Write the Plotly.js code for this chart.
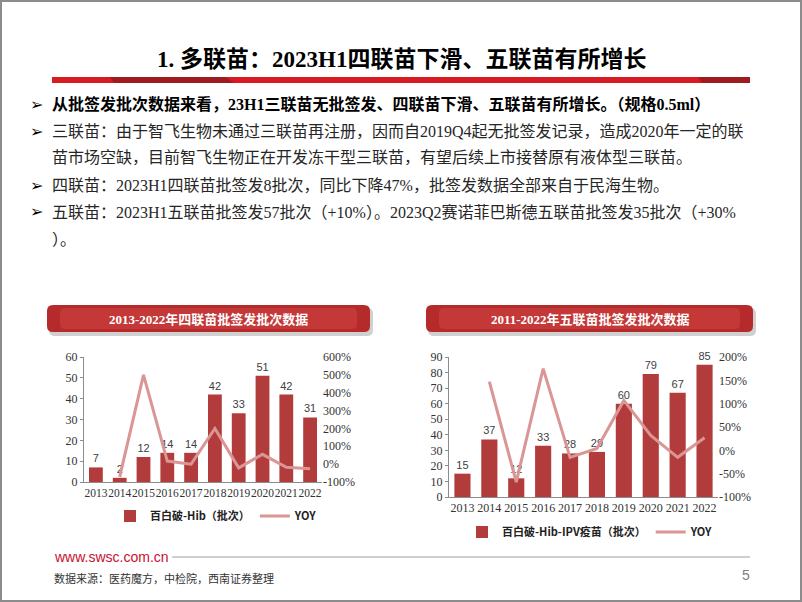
<!DOCTYPE html>
<html><head><meta charset="utf-8">
<script src="https://cdn.plot.ly/plotly-3.0.1.min.js"></script>
<style>html,body{margin:0;padding:0;background:#fff;overflow:hidden}#chart{width:802px;height:602px}</style>
</head><body><div id="chart"></div>
<script>
// ---- data ----
const years = ['2013','2014','2015','2016','2017','2018','2019','2020','2021','2022'];
const quadBatches = [7, 2, 12, 14, 14, 42, 33, 51, 42, 31];
const yoyYears = ['2014','2015','2016','2017','2018','2019','2020','2021','2022'];
const quadYoy = [-0.71, 5.00, 0.17, 0.00, 2.00, -0.21, 0.55, -0.18, -0.26];
const pentaBatches = [15, 37, 12, 33, 28, 29, 60, 79, 67, 85];
const pentaYoy = [1.47, -0.68, 1.75, -0.15, 0.04, 1.07, 0.32, -0.15, 0.27];
const quadLeftTicks = [0, 10, 20, 30, 40, 50, 60];
const quadRightTicks = [-1, 0, 1, 2, 3, 4, 5, 6];
const quadRightLabels = ['-100%', '0%', '100%', '200%', '300%', '400%', '500%', '600%'];
const pentaLeftTicks = [0, 10, 20, 30, 40, 50, 60, 70, 80, 90];
const pentaRightTicks = [-1, -0.5, 0, 0.5, 1, 1.5, 2];
const pentaRightLabels = ['-100%', '-50%', '0%', '50%', '100%', '150%', '200%'];
const quadBarName = '百白破-Hib（批次）';
const pentaBarName = '百白破-Hib-IPV疫苗（批次）';
const yoyName = 'YOY';

// ---- helpers (pixel -> paper) ----
const W = 802, H = 602;
const px = x => x / W;
const py = y => 1 - y / H;
function P(x, y) { return px(x).toFixed(5) + ',' + py(y).toFixed(5); }
function roundRect(x0, y0, x1, y1, r) {
  return 'M' + P(x0 + r, y0) + ' L' + P(x1 - r, y0) + ' Q' + P(x1, y0) + ' ' + P(x1, y0 + r) +
    ' L' + P(x1, y1 - r) + ' Q' + P(x1, y1) + ' ' + P(x1 - r, y1) +
    ' L' + P(x0 + r, y1) + ' Q' + P(x0, y1) + ' ' + P(x0, y1 - r) +
    ' L' + P(x0, y0 + r) + ' Q' + P(x0, y0) + ' ' + P(x0 + r, y0) + ' Z';
}
function poly(pts) { return 'M' + pts.map(p => P(p[0], p[1])).join(' L') + ' Z'; }

const SERIF = 'Liberation Serif, Times New Roman, Noto Sans CJK SC, serif';
const CJK = 'Noto Sans CJK SC, sans-serif';
const BAR = '#B23B3B';
const LINE = '#D99694';
const tickFont = {family: SERIF, size: 12, color: '#333'};

const traces = [
  {type: 'bar', x: years, y: quadBatches, name: quadBarName, xaxis: 'x', yaxis: 'y',
   marker: {color: BAR}, width: 0.58, text: quadBatches.map(String), textposition: 'outside',
   textfont: {family: 'Liberation Sans, Arial, sans-serif', size: 11, color: '#404040'},
   cliponaxis: false, legend: 'legend'},
  {type: 'scatter', mode: 'lines', x: yoyYears, y: quadYoy, name: yoyName, xaxis: 'x', yaxis: 'y2',
   line: {color: LINE, width: 3}, legend: 'legend'},
  {type: 'bar', x: years, y: pentaBatches, name: pentaBarName, xaxis: 'x2', yaxis: 'y3',
   marker: {color: BAR}, width: 0.6, text: pentaBatches.map(String), textposition: 'outside',
   textfont: {family: 'Liberation Sans, Arial, sans-serif', size: 11, color: '#404040'},
   cliponaxis: false, legend: 'legend2'},
  {type: 'scatter', mode: 'lines', x: yoyYears, y: pentaYoy, name: yoyName, xaxis: 'x2', yaxis: 'y4',
   line: {color: LINE, width: 3}, legend: 'legend2'}
];

const axBase = {showgrid: false, zeroline: false, fixedrange: true, tickfont: tickFont};

const bullets = [
  {y: 104, t: '从批签发批次数据来看，23H1三联苗无批签发、四联苗下滑、五联苗有所增长。（规格0.5ml）', bold: true, arrow: true},
  {y: 131, t: '三联苗：由于智飞生物未通过三联苗再注册，因而自2019Q4起无批签发记录，造成2020年一定的联', arrow: true},
  {y: 157, t: '苗市场空缺，目前智飞生物正在开发冻干型三联苗，有望后续上市接替原有液体型三联苗。'},
  {y: 185, t: '四联苗：2023H1四联苗批签发8批次，同比下降47%，批签发数据全部来自于民海生物。', arrow: true},
  {y: 212, t: '五联苗：2023H1五联苗批签发57批次（+10%）。2023Q2赛诺菲巴斯德五联苗批签发35批次（+30%', arrow: true},
  {y: 240, t: '）。'}
];

const annotations = [
  {x: px(401), y: py(60), xref: 'paper', yref: 'paper', text: '1. 多联苗：2023H1四联苗下滑、五联苗有所增长',
   showarrow: false, xanchor: 'center', yanchor: 'middle',
   font: {family: SERIF, size: 23, color: '#000', weight: 'bold'}},
  {x: px(209), y: py(319), xref: 'paper', yref: 'paper', text: '2013-2022年四联苗批签发批次数据',
   showarrow: false, xanchor: 'center', yanchor: 'middle',
   font: {family: SERIF, size: 13, color: '#fff', weight: 'bold'}},
  {x: px(590), y: py(319), xref: 'paper', yref: 'paper', text: '2011-2022年五联苗批签发批次数据',
   showarrow: false, xanchor: 'center', yanchor: 'middle',
   font: {family: SERIF, size: 13, color: '#fff', weight: 'bold'}},
  {x: px(52), y: py(557), xref: 'paper', yref: 'paper', text: 'www.swsc.com.cn',
   showarrow: false, xanchor: 'left', yanchor: 'middle',
   font: {family: 'Liberation Sans, Arial, sans-serif', size: 14, color: '#C8102E'}},
  {x: px(52), y: py(578), xref: 'paper', yref: 'paper', text: '数据来源：医药魔方，中检院，西南证券整理',
   showarrow: false, xanchor: 'left', yanchor: 'middle',
   font: {family: SERIF, size: 11, color: '#333'}},
  {x: px(752), y: py(575), xref: 'paper', yref: 'paper', text: '5',
   showarrow: false, xanchor: 'right', yanchor: 'middle',
   font: {family: 'Liberation Sans, Arial, sans-serif', size: 14, color: '#808080'}}
];
bullets.forEach(b => {
  annotations.push({x: px(50), y: py(b.y), xref: 'paper', yref: 'paper', text: b.t,
    showarrow: false, xanchor: 'left', yanchor: 'middle',
    font: {family: SERIF, size: 16, color: b.bold ? '#000' : '#262626', weight: b.bold ? 'bold' : 'normal'}});
  if (b.arrow) annotations.push({x: px(28), y: py(b.y), xref: 'paper', yref: 'paper', text: '➢',
    showarrow: false, xanchor: 'left', yanchor: 'middle',
    font: {family: 'DejaVu Sans, sans-serif', size: 16, color: '#000'}});
});

const shapes = [
  // slide border
  {type: 'rect', xref: 'paper', yref: 'paper', x0: px(1), x1: px(801), y0: py(601), y1: py(1),
   line: {color: '#8C8C8C', width: 2}, fillcolor: 'rgba(0,0,0,0)'},
  // title underline bar
  {type: 'rect', xref: 'paper', yref: 'paper', x0: px(52), x1: px(750), y0: py(83), y1: py(77),
   line: {width: 0}, fillcolor: '#DA1A22'},
  {type: 'path', xref: 'paper', yref: 'paper', path: poly([[110, 77], [226, 77], [234, 83], [114, 83]]),
   line: {width: 0}, fillcolor: '#9E1C20'},
  {type: 'path', xref: 'paper', yref: 'paper', path: poly([[698, 77], [750, 77], [750, 83], [702, 83]]),
   line: {width: 0}, fillcolor: '#9E1C20'},
  // banners: shadows
  {type: 'path', xref: 'paper', yref: 'paper', path: roundRect(49, 308, 373, 336, 6),
   line: {width: 0}, fillcolor: 'rgba(150,150,150,0.45)'},
  {type: 'path', xref: 'paper', yref: 'paper', path: roundRect(428, 308, 756, 336, 6),
   line: {width: 0}, fillcolor: 'rgba(150,150,150,0.45)'},
  // banners
  {type: 'path', xref: 'paper', yref: 'paper', path: roundRect(47, 305, 370, 332, 6),
   line: {width: 0}, fillcolor: '#B52A2A'},
  {type: 'path', xref: 'paper', yref: 'paper', path: roundRect(60, 308, 357, 329, 5),
   line: {width: 0}, fillcolor: '#C43838'},
  {type: 'path', xref: 'paper', yref: 'paper', path: roundRect(426, 305, 753, 332, 6),
   line: {width: 0}, fillcolor: '#B52A2A'},
  {type: 'path', xref: 'paper', yref: 'paper', path: roundRect(439, 308, 740, 329, 5),
   line: {width: 0}, fillcolor: '#C43838'},
  // footer line
  {type: 'line', xref: 'paper', yref: 'paper', x0: px(172), x1: px(750), y0: py(557), y1: py(557),
   line: {color: '#BFBFBF', width: 1.5}}
];

const legendFont = {family: CJK, size: 11, color: '#222', weight: 'bold'};

const layout = {
  width: W, height: H, autosize: false,
  margin: {l: 0, r: 0, t: 0, b: 0, pad: 0},
  paper_bgcolor: '#fff', plot_bgcolor: 'rgba(0,0,0,0)',
  showlegend: true,
  bargap: 0.4,
  xaxis: Object.assign({}, axBase, {domain: [px(84), px(322)], anchor: 'y', type: 'category',
    showline: true, linecolor: '#8C8C8C', linewidth: 1, ticks: '', tickangle: 0,
    tickfont: {family: SERIF, size: 11.5, color: '#333'}}),
  yaxis: Object.assign({}, axBase, {domain: [py(482), py(357)], anchor: 'x', range: [0, 60],
    tickvals: quadLeftTicks, showline: true, linecolor: '#8C8C8C', ticks: 'outside', ticklen: 3, tickcolor: '#8C8C8C'}),
  yaxis2: Object.assign({}, axBase, {overlaying: 'y', side: 'right', anchor: 'x', range: [-1, 6],
    tickvals: quadRightTicks, ticktext: quadRightLabels, showline: false}),
  xaxis2: Object.assign({}, axBase, {domain: [px(449), px(718)], anchor: 'y3', type: 'category',
    showline: true, linecolor: '#8C8C8C', linewidth: 1, ticks: '', tickangle: 0}),
  yaxis3: Object.assign({}, axBase, {domain: [py(497), py(357)], anchor: 'x2', range: [0, 90],
    tickvals: pentaLeftTicks, showline: true, linecolor: '#8C8C8C', ticks: 'outside', ticklen: 3, tickcolor: '#8C8C8C'}),
  yaxis4: Object.assign({}, axBase, {overlaying: 'y3', side: 'right', anchor: 'x2', range: [-1, 2],
    tickvals: pentaRightTicks, ticktext: pentaRightLabels, showline: false}),
  legend: {x: px(110), y: py(516), xanchor: 'left', yanchor: 'middle', orientation: 'h',
    font: legendFont, bgcolor: 'rgba(0,0,0,0)', itemwidth: 30, tracegroupgap: 0},
  legend2: {x: px(462), y: py(532), xanchor: 'left', yanchor: 'middle', orientation: 'h',
    font: legendFont, bgcolor: 'rgba(0,0,0,0)', itemwidth: 30, tracegroupgap: 0},
  annotations: annotations,
  shapes: shapes
};

Plotly.newPlot('chart', traces, layout, {displayModeBar: false, staticPlot: true});
</script>
</body></html>
